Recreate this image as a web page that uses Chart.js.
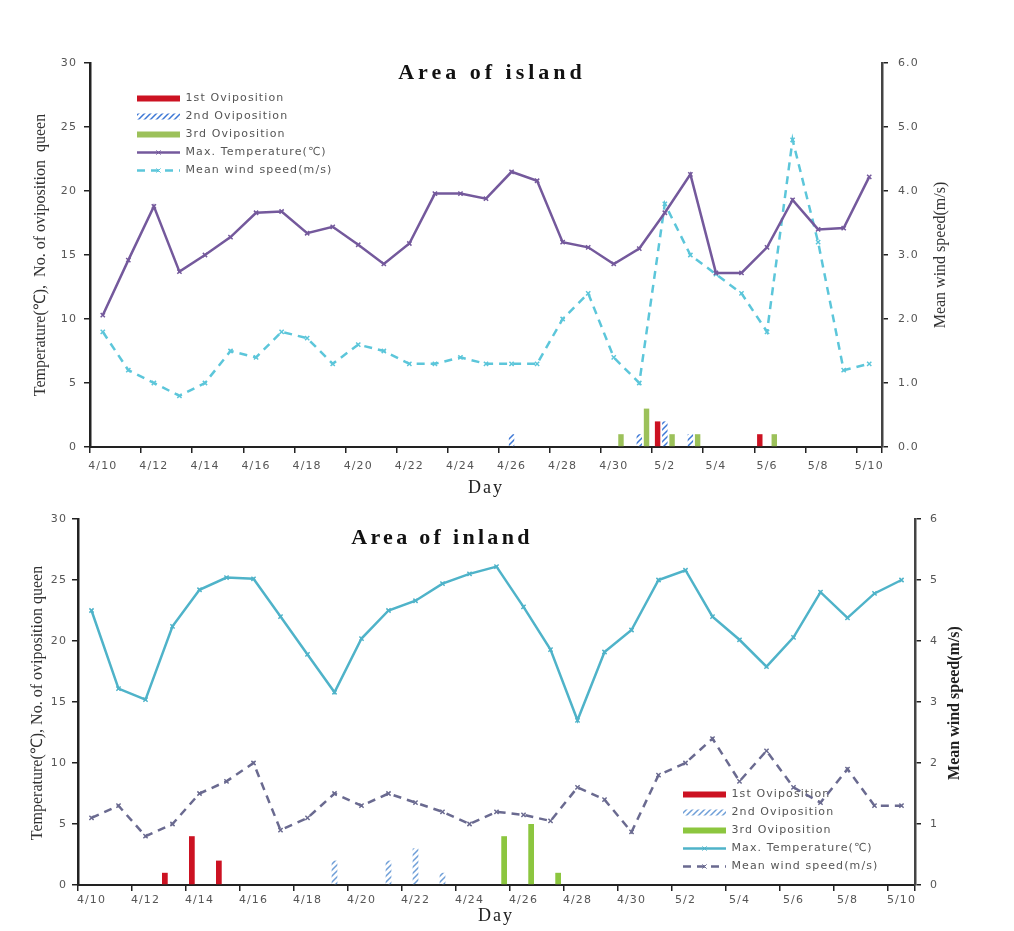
<!DOCTYPE html>
<html>
<head>
<meta charset="utf-8">
<script src="https://cdn.jsdelivr.net/npm/chart.js@4.4.1/dist/chart.umd.min.js"></script>
<style>
  body { margin: 0; background: #fff; }
  .graph { position: absolute; left: 0; }
</style>
</head>
<body>
<div class="graph" style="top:0"><canvas id="island" width="1014" height="500"></canvas></div>
<div class="graph" style="top:500px"><canvas id="inland" width="1014" height="431"></canvas></div>
<script>
const days = ["4/10", "4/11", "4/12", "4/13", "4/14", "4/15", "4/16", "4/17", "4/18", "4/19",
  "4/20", "4/21", "4/22", "4/23", "4/24", "4/25", "4/26", "4/27", "4/28", "4/29",
  "4/30", "5/1", "5/2", "5/3", "5/4", "5/5", "5/6", "5/7", "5/8", "5/9", "5/10"];

// Area of island
const islandTemp = [10.3, 14.6, 18.8, 13.7, 15.0, 16.4, 18.3, 18.4, 16.7, 17.2,
  15.8, 14.3, 15.9, 19.8, 19.8, 19.4, 21.5, 20.8, 16.0, 15.6,
  14.3, 15.5, 18.3, 21.3, 13.6, 13.6, 15.6, 19.3, 17.0, 17.1, 21.1];
const islandWind = [1.8, 1.2, 1.0, 0.8, 1.0, 1.5, 1.4, 1.8, 1.7, 1.3,
  1.6, 1.5, 1.3, 1.3, 1.4, 1.3, 1.3, 1.3, 2.0, 2.4,
  1.4, 1.0, 3.8, 3.0, 2.7, 2.4, 1.8, 4.8, 3.2, 1.2, 1.3];
const island1st = [0, 0, 0, 0, 0, 0, 0, 0, 0, 0, 0, 0, 0, 0, 0, 0, 0, 0, 0, 0, 0, 0, 2, 0, 0, 0, 1, 0, 0, 0, 0];
const island2nd = [0, 0, 0, 0, 0, 0, 0, 0, 0, 0, 0, 0, 0, 0, 0, 0, 1, 0, 0, 0, 0, 1, 2, 1, 0, 0, 0, 0, 0, 0, 0];
const island3rd = [0, 0, 0, 0, 0, 0, 0, 0, 0, 0, 0, 0, 0, 0, 0, 0, 0, 0, 0, 0, 1, 3, 1, 1, 0, 0, 1, 0, 0, 0, 0];

// Area of inland
const inlandTemp = [22.5, 16.1, 15.2, 21.2, 24.2, 25.2, 25.1, 22.0, 18.9, 15.8,
  20.2, 22.5, 23.3, 24.7, 25.5, 26.1, 22.8, 19.3, 13.5, 19.1,
  20.9, 25.0, 25.8, 22.0, 20.1, 17.9, 20.3, 24.0, 21.9, 23.9, 25.0];
const inlandWind = [1.1, 1.3, 0.8, 1.0, 1.5, 1.7, 2.0, 0.9, 1.1, 1.5,
  1.3, 1.5, 1.35, 1.2, 1.0, 1.2, 1.15, 1.05, 1.6, 1.4,
  0.87, 1.8, 2.0, 2.4, 1.7, 2.2, 1.6, 1.35, 1.9, 1.3, 1.3];
const inland1st = [0, 0, 0, 1, 4, 2, 0, 0, 0, 0, 0, 0, 0, 0, 0, 0, 0, 0, 0, 0, 0, 0, 0, 0, 0, 0, 0, 0, 0, 0, 0];
const inland2nd = [0, 0, 0, 0, 0, 0, 0, 0, 0, 2, 0, 2, 3, 1, 0, 0, 0, 0, 0, 0, 0, 0, 0, 0, 0, 0, 0, 0, 0, 0, 0];
const inland3rd = [0, 0, 0, 0, 0, 0, 0, 0, 0, 0, 0, 0, 0, 0, 0, 4, 5, 1, 0, 0, 0, 0, 0, 0, 0, 0, 0, 0, 0, 0, 0];

const tempTicks = [0, 5, 10, 15, 20, 25, 30];
const windTicks = [0, 1, 2, 3, 4, 5, 6];

const seriesNames = ["1st Oviposition", "2nd Oviposition", "3rd Oviposition",
  "Max. Temperature(\u2103)", "Mean wind speed(m/s)"];

function hatch(color) {
  const c = document.createElement("canvas");
  c.width = 6;
  c.height = 6;
  const g = c.getContext("2d");
  g.strokeStyle = color;
  g.lineWidth = 1.5;
  g.beginPath();
  g.moveTo(0, 6); g.lineTo(6, 0);
  g.moveTo(-1, 1); g.lineTo(1, -1);
  g.moveTo(5, 7); g.lineTo(7, 5);
  g.stroke();
  return g.createPattern(c, "repeat");
}

// titles, axis titles and legend placement
function decor(texts, legendX, legendY) {
  return {
    id: "decor",
    beforeLayout(chart) {
      chart.ctx.letterSpacing = "1.1px";
    },
    afterLayout(chart) {
      const lg = chart.legend;
      lg.left = legendX;
      lg.top = legendY;
      lg.right = lg.left + lg.width;
      lg.bottom = lg.top + lg.height;
    },
    afterDraw(chart) {
      const ctx = chart.ctx;
      // small markers in the middle of the legend lines
      const lg = chart.legend;
      lg.legendItems.forEach((it, i) => {
        const ds = chart.data.datasets[it.datasetIndex];
        const box = lg.legendHitBoxes[i];
        if (ds.type !== "line" || !box) return;
        ctx.save();
        ctx.strokeStyle = ds.borderColor;
        ctx.setLineDash([]);
        Chart.helpers.drawPoint(ctx, { pointStyle: "crossRot", radius: 3, borderWidth: 1.5, rotation: 0 },
          box.left + 21.5, box.top + box.height / 2);
        ctx.restore();
      });
      texts.forEach((t) => {
        ctx.save();
        ctx.letterSpacing = t.spacing || "0px";
        ctx.font = t.font;
        ctx.fillStyle = t.color || "#222";
        ctx.textAlign = "center";
        ctx.textBaseline = "middle";
        ctx.translate(t.x, t.y);
        ctx.rotate(((t.rot || 0) * Math.PI) / 180);
        ctx.fillText(t.text, 0, 0);
        ctx.restore();
      });
    },
  };
}

const tickFont = { family: "DejaVu Sans", size: 11 };
const axisColor = "#222";

function makeChart(canvasId, d, look) {
  const config = {
    type: "bar",
    data: {
      labels: days,
      datasets: [
        {
          label: seriesNames[0], data: d.first, yAxisID: "y",
          backgroundColor: "#cc1222", borderWidth: 0,
          categoryPercentage: 0.85, barPercentage: 0.75,
        },
        {
          label: seriesNames[1], data: d.second, yAxisID: "y",
          backgroundColor: hatch(look.hatchColor), borderWidth: 0,
          categoryPercentage: 0.85, barPercentage: 0.75,
        },
        {
          label: seriesNames[2], data: d.third, yAxisID: "y",
          backgroundColor: look.green, borderWidth: 0,
          categoryPercentage: 0.85, barPercentage: 0.75,
        },
        {
          type: "line", label: seriesNames[3], data: d.temp, yAxisID: "y",
          borderColor: look.tempColor, backgroundColor: look.tempColor,
          borderWidth: 2.5, tension: 0, borderDash: [],
          pointStyle: "crossRot", pointRadius: 3, pointBorderWidth: 1.5,
        },
        {
          type: "line", label: seriesNames[4], data: d.wind, yAxisID: "y1",
          borderColor: look.windColor, backgroundColor: look.windColor,
          borderWidth: 2.5, tension: 0, borderDash: [8, 6],
          pointStyle: "crossRot", pointRadius: 3, pointBorderWidth: 1.5,
        },
      ],
    },
    options: {
      responsive: false,
      animation: false,
      devicePixelRatio: 1,
      layout: { padding: look.padding },
      plugins: {
        title: { display: false },
        tooltip: { enabled: false },
        legend: {
          position: "chartArea",
          align: "start",
          labels: {
            usePointStyle: true,
            pointStyleWidth: 43,
            boxHeight: 6,
            padding: 7,
            color: "#555",
            font: { family: "DejaVu Sans", size: 11 },
            generateLabels(chart) {
              const items = Chart.defaults.plugins.legend.labels.generateLabels(chart);
              items.forEach((it) => {
                const ds = chart.data.datasets[it.datasetIndex];
                if (ds.type === "line") {
                  it.pointStyle = "line";
                  it.lineWidth = 2.5;
                  it.lineDash = ds.borderDash;
                  it.strokeStyle = ds.borderColor;
                } else {
                  it.pointStyle = "rect";
                }
              });
              return items;
            },
          },
        },
      },
      scales: {
        x: {
          offset: true,
          afterFit: (s) => { s.height = look.xHeight; },
          grid: {
            offset: true,
            drawOnChartArea: false,
            tickLength: 6,
            lineWidth: 1.5,
            tickColor: (c) => (c.index % 2 ? "rgba(0,0,0,0)" : axisColor),
          },
          border: { color: axisColor, width: 2 },
          ticks: {
            autoSkip: false,
            maxRotation: 0,
            padding: look.xPad,
            color: "#555",
            font: tickFont,
            callback: (v, i) => (i % 2 === 0 ? days[i] : ""),
          },
        },
        y: {
          position: "left",
          min: 0,
          max: 30,
          afterFit: (s) => { s.width = look.leftWidth; },
          afterBuildTicks: (s) => { s.ticks = tempTicks.map((v) => ({ value: v })); },
          grid: { drawOnChartArea: false, tickLength: 6, color: axisColor, lineWidth: 1.5 },
          border: { color: axisColor, width: 2.5 },
          ticks: { padding: look.leftPad, color: "#555", font: tickFont },
        },
        y1: {
          position: "right",
          min: 0,
          max: 6,
          afterFit: (s) => { s.width = look.rightWidth; },
          afterBuildTicks: (s) => { s.ticks = windTicks.map((v) => ({ value: v })); },
          grid: { drawOnChartArea: false, tickLength: 6, color: axisColor, lineWidth: 1.5 },
          border: { color: "#444", width: 2.5 },
          ticks: {
            padding: look.rightPad,
            color: "#555",
            font: tickFont,
            callback: (v) => (look.decimals ? v.toFixed(1) : String(v)),
          },
        },
      },
    },
    plugins: [decor(look.texts, look.legendX, look.legendY)],
  };
  return new Chart(document.getElementById(canvasId), config);
}

makeChart("island",
  { first: island1st, second: island2nd, third: island3rd, temp: islandTemp, wind: islandWind },
  {
    padding: { top: 63, left: 30, right: 60, bottom: 0 },
    xHeight: 53, leftWidth: 60, rightWidth: 72,
    xPad: 7, leftPad: 7, rightPad: 10,
    decimals: true,
    hatchColor: "#3d78d6", green: "#9cc15a",
    tempColor: "#74599c", windColor: "#5cc6da",
    legendX: 130, legendY: 86,
    texts: [
      { text: "Area of island", x: 492, y: 73, font: "bold 22px 'Liberation Serif'", spacing: "4px", color: "#111" },
      { text: "Temperature(\u2103),  No. of oviposition  queen", x: 41, y: 255, rot: -90, font: "16px 'Liberation Serif'", color: "#333" },
      { text: "Mean wind speed(m/s)", x: 941, y: 255, rot: -90, font: "16px 'Liberation Serif'", color: "#333" },
      { text: "Day", x: 486, y: 488, font: "18px 'Liberation Serif'", spacing: "2px", color: "#222" },
    ],
  });

makeChart("inland",
  { first: inland1st, second: inland2nd, third: inland3rd, temp: inlandTemp, wind: inlandWind },
  {
    padding: { top: 19, left: 20, right: 45, bottom: 0 },
    xHeight: 46, leftWidth: 58, rightWidth: 54,
    xPad: 3, leftPad: 5, rightPad: 9,
    decimals: false,
    hatchColor: "#6f9fd8", green: "#8cc63f",
    tempColor: "#4fb3c9", windColor: "#6a6a90",
    legendX: 676, legendY: 282,
    texts: [
      { text: "Area of inland", x: 442, y: 38, font: "bold 22px 'Liberation Serif'", spacing: "3.3px", color: "#111" },
      { text: "Temperature(\u2103), No. of oviposition queen", x: 38, y: 203, rot: -90, font: "16px 'Liberation Serif'", color: "#333" },
      { text: "Mean wind speed(m/s)", x: 955, y: 203, rot: -90, font: "bold 16px 'Liberation Serif'", color: "#222" },
      { text: "Day", x: 496, y: 416, font: "18px 'Liberation Serif'", spacing: "2px", color: "#222" },
    ],
  });
</script>
</body>
</html>
